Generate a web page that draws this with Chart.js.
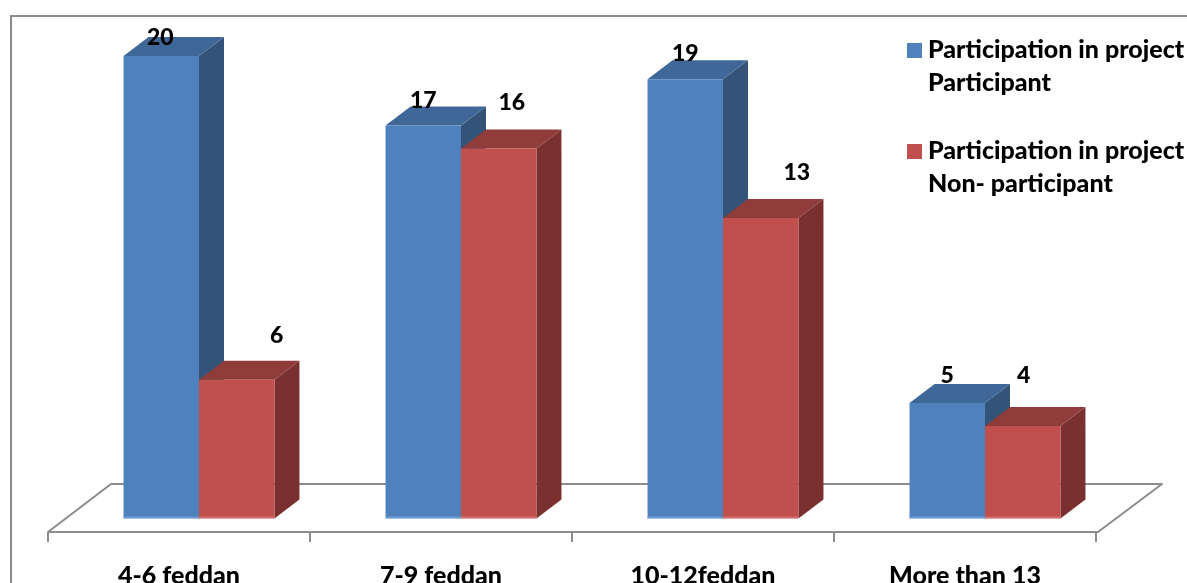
<!DOCTYPE html>
<html>
<head>
<meta charset="utf-8">
<title>Participation in project by farm size</title>
<script src="https://cdn.jsdelivr.net/npm/chart.js@4"></script>
<style>
    html, body { margin: 0; padding: 0; background: #fff; overflow: hidden; }
    canvas { display: block; }
</style>
</head>
<body>
<canvas id="myChart" width="1187" height="583"></canvas>
<script>
const categories = ['4-6 feddan', '7-9 feddan', '10-12feddan', 'More than 13'];
const participant = [20, 17, 19, 5];
const nonParticipant = [6, 16, 13, 4];
const participantLabel = ['Participation in project', 'Participant'];
const nonParticipantLabel = ['Participation in project', 'Non- participant'];

const FONT = '"Lato", "Open Sans", sans-serif';
const LINE = '#8c8c8c';
const DEPTH_X = 25;
const DEPTH_Y = 19;

// value labels do not sit in one fixed spot, each one has its own nudge from the bar top
const participantNudge = [[-1, -18], [0, -25], [0, -26], [0, -27]];
const nonParticipantNudge = [[40, -44], [13, -46], [36, -45], [1, -50]];

function poly(ctx, pts, color) {
    ctx.fillStyle = color;
    ctx.beginPath();
    pts.forEach((p, i) => i ? ctx.lineTo(p[0], p[1]) : ctx.moveTo(p[0], p[1]));
    ctx.closePath();
    ctx.fill();
}

function line(ctx, x1, y1, x2, y2) {
    ctx.beginPath();
    ctx.moveTo(x1, y1);
    ctx.lineTo(x2, y2);
    ctx.stroke();
}

// outer frame, only top and left are visible
const framePlugin = {
    id: 'frame',
    beforeDraw(chart) {
        const ctx = chart.ctx;
        ctx.save();
        ctx.fillStyle = '#fff';
        ctx.fillRect(0, 0, chart.width, chart.height);
        ctx.strokeStyle = LINE;
        ctx.lineWidth = 2;
        ctx.beginPath();
        ctx.moveTo(11, chart.height);
        ctx.lineTo(11, 16);
        ctx.lineTo(chart.width, 16);
        ctx.stroke();
        ctx.restore();
    }
};

// floor of the 3d box and the side/top faces of the bars, fronts come from the bar elements
const boxPlugin = {
    id: 'box',
    beforeDatasetsDraw(chart) {
        const ctx = chart.ctx;
        const area = chart.chartArea;
        const xScale = chart.scales.x;
        const step = xScale.getPixelForValue(1) - xScale.getPixelForValue(0);
        const front = Math.round(area.bottom + 13);
        const back = Math.round(area.bottom - 35);
        const left = area.left - 20;
        const right = area.right - 18;

        ctx.save();
        ctx.strokeStyle = LINE;
        ctx.lineWidth = 2;
        ctx.lineJoin = 'round';
        ctx.beginPath();
        ctx.moveTo(left, front);
        ctx.lineTo(right, front);
        ctx.lineTo(right + 64, back);
        ctx.lineTo(left + 63, back);
        ctx.closePath();
        ctx.stroke();
        categories.concat(['']).forEach((c, i) => {
            const x = left + i * step;
            line(ctx, x, front, x, front + 10);
        });

        const faces = [
            { top: '#3f6797', side: '#335379' },
            { top: '#8f3c3a', side: '#7a302e' }
        ];
        chart.data.datasets.forEach((ds, d) => {
            chart.getDatasetMeta(d).data.forEach(bar => {
                const x0 = bar.x - bar.width / 2;
                const x1 = bar.x + bar.width / 2;
                poly(ctx, [[x1, bar.y], [x1 + DEPTH_X, bar.y - DEPTH_Y], [x1 + DEPTH_X, bar.base - DEPTH_Y], [x1, bar.base]], faces[d].side);
                poly(ctx, [[x0, bar.y], [x0 + DEPTH_X, bar.y - DEPTH_Y], [x1 + DEPTH_X, bar.y - DEPTH_Y], [x1, bar.y]], faces[d].top);
            });
        });
        ctx.restore();
    },
    afterDatasetsDraw(chart) {
        const ctx = chart.ctx;
        const strips = ['#6f9bd1', '#d2706d'];
        ctx.save();
        chart.data.datasets.forEach((ds, d) => {
            ctx.fillStyle = strips[d];
            chart.getDatasetMeta(d).data.forEach(bar => {
                ctx.fillRect(bar.x - bar.width / 2, bar.base - 2, bar.width, 2);
            });
        });
        ctx.restore();
    }
};

const valueLabelPlugin = {
    id: 'valueLabels',
    afterDraw(chart) {
        const ctx = chart.ctx;
        const nudges = [participantNudge, nonParticipantNudge];
        ctx.save();
        ctx.font = '900 23px ' + FONT;
        ctx.fillStyle = '#000';
        ctx.textAlign = 'center';
        ctx.textBaseline = 'middle';
        chart.data.datasets.forEach((ds, d) => {
            chart.getDatasetMeta(d).data.forEach((bar, i) => {
                ctx.fillText(ds.data[i], bar.x + nudges[d][i][0], bar.y + nudges[d][i][1]);
            });
        });
        ctx.restore();
    }
};

// two line legend on top of the plot
const legendPlugin = {
    id: 'sideLegend',
    afterDraw(chart) {
        const ctx = chart.ctx;
        ctx.save();
        ctx.font = '900 25px ' + FONT;
        ctx.textBaseline = 'middle';
        chart.data.datasets.forEach((ds, d) => {
            const y = 50 + d * 101;
            ctx.fillStyle = ds.backgroundColor;
            ctx.fillRect(907, y - 7, 15, 15);
            ctx.fillStyle = '#000';
            ds.label.forEach((text, l) => ctx.fillText(text, 928, y + l * 33));
        });
        ctx.restore();
    }
};

const ctx = document.getElementById('myChart').getContext('2d');
const myChart = new Chart(ctx, {
    type: 'bar',
    data: {
        labels: categories,
        datasets: [
            { label: participantLabel, data: participant, backgroundColor: '#4f81bd', borderWidth: 0 },
            { label: nonParticipantLabel, data: nonParticipant, backgroundColor: '#c0504d', borderWidth: 0 }
        ]
    },
    options: {
        responsive: false,
        animation: false,
        layout: { padding: { left: 68, right: 71, top: 56, bottom: 0 } },
        datasets: { bar: { categoryPercentage: 0.576, barPercentage: 1 } },
        plugins: { legend: { display: false }, tooltip: { enabled: false } },
        scales: {
            x: {
                afterFit(scale) { scale.height = 64.5; },
                grid: { display: false, drawTicks: false },
                border: { display: false },
                ticks: {
                    color: '#000',
                    font: { family: FONT, size: 25, weight: '900' },
                    padding: 42,
                    labelOffset: -20,
                    maxRotation: 0,
                    autoSkip: false
                }
            },
            y: { display: false, min: 0, max: 20 }
        }
    },
    plugins: [framePlugin, boxPlugin, valueLabelPlugin, legendPlugin]
});
</script>
</body>
</html>
